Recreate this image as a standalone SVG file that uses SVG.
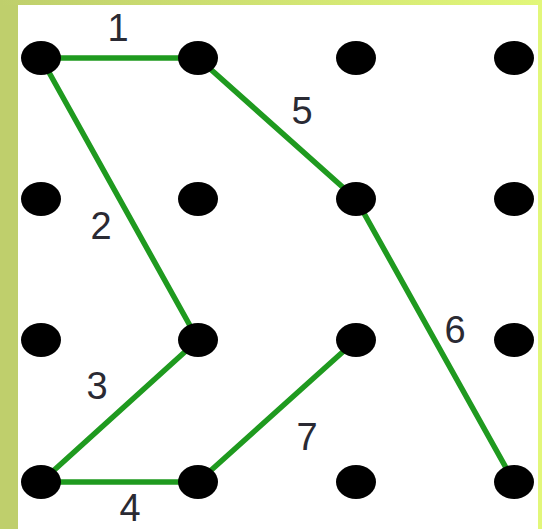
<svg xmlns="http://www.w3.org/2000/svg" width="542" height="529" viewBox="0 0 542 529">
<defs>
<linearGradient id="topg" x1="0" y1="0" x2="1" y2="0">
<stop offset="0" stop-color="#bfcf6c"/>
<stop offset="1" stop-color="#e2f77a"/>
</linearGradient>
<style>
.dot{fill:#000}
.edge{stroke:#1f9a1f;stroke-width:5.5;stroke-linecap:round;fill:none}
.lbl{font-family:"Liberation Sans",Arial,sans-serif;font-size:38px;fill:#2a2a33;text-anchor:middle}
</style>
</defs>
<rect x="0" y="0" width="542" height="529" fill="#ffffff"/>
<rect x="0" y="0" width="18" height="529" fill="#bfcf6c"/>
<rect x="0" y="0" width="542" height="5" fill="url(#topg)"/>
<rect x="538" y="0" width="4" height="529" fill="#e2f77a"/>
<g id="connectors">
<line class="edge" x1="41" y1="58" x2="198" y2="58"/>
<line class="edge" x1="41" y1="58" x2="198" y2="340"/>
<line class="edge" x1="198" y1="340" x2="41" y2="482"/>
<line class="edge" x1="41" y1="482" x2="198" y2="482"/>
<line class="edge" x1="198" y1="58" x2="356" y2="199"/>
<line class="edge" x1="356" y1="199" x2="514" y2="482"/>
<line class="edge" x1="198" y1="482" x2="356" y2="340"/>
</g>
<g id="labels">
<text class="lbl" x="118" y="41">1</text>
<text class="lbl" x="101" y="239">2</text>
<text class="lbl" x="97" y="399">3</text>
<text class="lbl" x="130" y="521">4</text>
<text class="lbl" x="302" y="124">5</text>
<text class="lbl" x="455" y="343">6</text>
<text class="lbl" x="307" y="450">7</text>
</g>
<g id="n00"><ellipse class="dot" cx="41" cy="58" rx="20" ry="17"/></g>
<g id="n01"><ellipse class="dot" cx="198" cy="58" rx="20" ry="17"/></g>
<g id="n02"><ellipse class="dot" cx="356" cy="58" rx="20" ry="17"/></g>
<g id="n03"><ellipse class="dot" cx="514" cy="58" rx="20" ry="17"/></g>
<g id="n10"><ellipse class="dot" cx="41" cy="199" rx="20" ry="17"/></g>
<g id="n11"><ellipse class="dot" cx="198" cy="199" rx="20" ry="17"/></g>
<g id="n12"><ellipse class="dot" cx="356" cy="199" rx="20" ry="17"/></g>
<g id="n13"><ellipse class="dot" cx="514" cy="199" rx="20" ry="17"/></g>
<g id="n20"><ellipse class="dot" cx="41" cy="340" rx="20" ry="17"/></g>
<g id="n21"><ellipse class="dot" cx="198" cy="340" rx="20" ry="17"/></g>
<g id="n22"><ellipse class="dot" cx="356" cy="340" rx="20" ry="17"/></g>
<g id="n23"><ellipse class="dot" cx="514" cy="340" rx="20" ry="17"/></g>
<g id="n30"><ellipse class="dot" cx="41" cy="482" rx="20" ry="17"/></g>
<g id="n31"><ellipse class="dot" cx="198" cy="482" rx="20" ry="17"/></g>
<g id="n32"><ellipse class="dot" cx="356" cy="482" rx="20" ry="17"/></g>
<g id="n33"><ellipse class="dot" cx="514" cy="482" rx="20" ry="17"/></g>
</svg>
